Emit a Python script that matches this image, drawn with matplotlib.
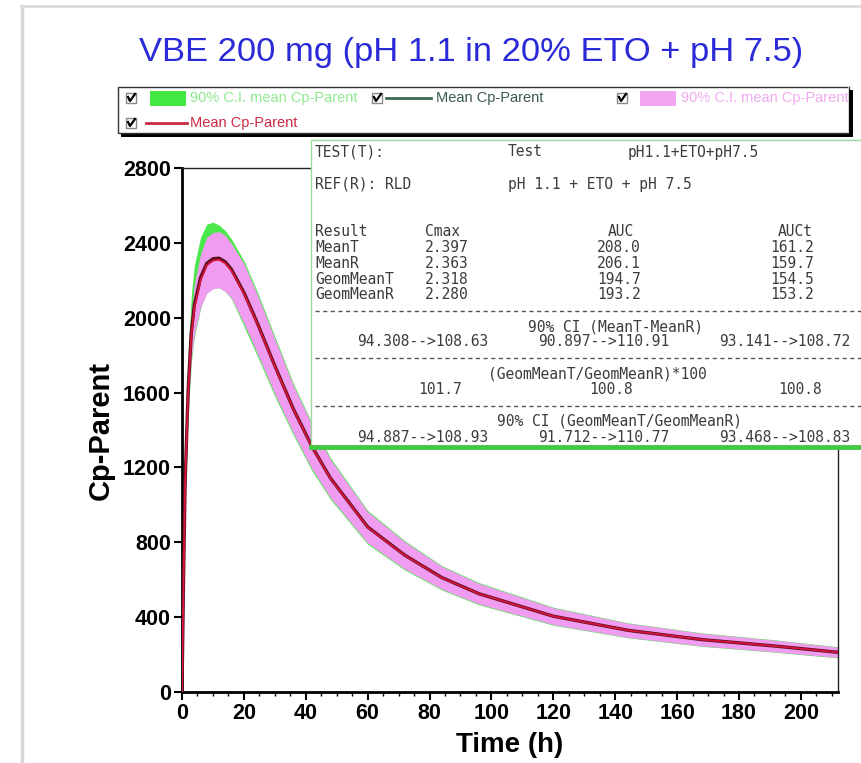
import matplotlib
matplotlib.use("Agg")
import matplotlib.pyplot as plt
from matplotlib.patches import Rectangle
from matplotlib.lines import Line2D

# ---------------- data ----------------
time_h = [0, 0.5, 1, 2, 3, 4, 6, 8, 10, 12, 14, 16, 20, 24, 30, 36, 42, 48,
          60, 72, 84, 96, 120, 144, 168, 192, 212]
mean_ref = [0, 600, 1100, 1600, 1900, 2050, 2200, 2280, 2305, 2310, 2290, 2250,
            2130, 1980, 1740, 1510, 1310, 1140, 880, 730, 610, 525, 405, 330,
            280, 245, 212]
mean_test = [0, 610, 1115, 1620, 1920, 2070, 2215, 2290, 2315, 2318, 2298, 2258,
             2135, 1985, 1743, 1512, 1312, 1142, 882, 731, 611, 525, 405, 330,
             280, 245, 212]
ci_test_upper = [0, 690, 1240, 1800, 2120, 2280, 2430, 2500, 2510, 2495, 2465,
                 2420, 2305, 2152, 1900, 1648, 1437, 1251, 970, 808, 675, 584,
                 453, 370, 316, 278, 242]
ci_test_lower = [0, 550, 1020, 1480, 1760, 1900, 2050, 2140, 2160, 2160, 2140,
                 2100, 1955, 1808, 1580, 1372, 1183, 1029, 790, 652, 545, 466,
                 357, 290, 244, 212, 182]
ci_ref_upper = [0, 640, 1170, 1700, 2020, 2180, 2340, 2430, 2455, 2460, 2440,
                2395, 2290, 2138, 1888, 1638, 1428, 1243, 964, 803, 671, 580,
                450, 368, 314, 276, 240]
ci_ref_lower = [0, 560, 1030, 1500, 1780, 1915, 2055, 2130, 2155, 2160, 2140,
                2105, 1970, 1822, 1592, 1382, 1192, 1037, 796, 657, 549, 470,
                360, 292, 246, 214, 184]

x_ticks = [0, 20, 40, 60, 80, 100, 120, 140, 160, 180, 200]
y_ticks = [0, 400, 800, 1200, 1600, 2000, 2400, 2800]

title = "VBE 200 mg (pH 1.1 in 20% ETO + pH 7.5)"
legend_labels = ["90% C.I. mean Cp-Parent", "Mean Cp-Parent",
                 "90% C.I. mean Cp-Parent", "Mean Cp-Parent"]

test_name = ["TEST(T):", "Test", "pH1.1+ETO+pH7.5"]
ref_name = ["REF(R): RLD", "pH 1.1 + ETO + pH 7.5"]
metrics = ["Cmax", "AUC", "AUCt"]
row_names = ["MeanT", "MeanR", "GeomMeanT", "GeomMeanR"]
cmax_vals = ["2.397", "2.363", "2.318", "2.280"]
auc_vals = ["208.0", "206.1", "194.7", "193.2"]
auct_vals = ["161.2", "159.7", "154.5", "153.2"]
ci_mean = ["94.308-->108.63", "90.897-->110.91", "93.141-->108.72"]
ratio_vals = ["101.7", "100.8", "100.8"]
ci_geom = ["94.887-->108.93", "91.712-->110.77", "93.468-->108.83"]

# ---------------- figure ----------------
W, H = 862, 763
fig = plt.figure(figsize=(W / 100, H / 100), dpi=100)
fig.patch.set_facecolor("white")


def fx(x):
    return x / W


def fy(y):
    return 1 - y / H


# outer gray frame of screenshot
fig.add_artist(Line2D([fx(22), fx(22)], [fy(6), fy(770)], color="#d6d6d6", lw=2.5))
fig.add_artist(Line2D([fx(21), fx(870)], [fy(6), fy(6)], color="#dcdcdc", lw=2))

ax = fig.add_axes([fx(182), fy(692), fx(838) - fx(182), fy(168) - fy(692)])
ax.fill_between(time_h, ci_test_lower, ci_test_upper, color="#4be84b", lw=0, zorder=1)
ax.fill_between(time_h, ci_ref_lower, ci_ref_upper, color="#f09cf0", lw=0, zorder=2)
ax.plot(time_h, mean_test, color="#5a1020", lw=2.4, zorder=3)
ax.plot(time_h, mean_ref, color="#d8143c", lw=1.3, zorder=4)

ax.set_xlim(0, 212)
ax.set_ylim(0, 2800)
ax.set_xticks(x_ticks)
ax.set_yticks(y_ticks)
ax.set_xticks(range(0, 212, 5), minor=True)
for lab in ax.get_xticklabels() + ax.get_yticklabels():
    lab.set_fontweight("bold")
    lab.set_fontfamily("Liberation Sans")
ax.tick_params(axis="both", which="major", labelsize=15.5, length=6, width=1.5,
               direction="out", pad=2)
ax.tick_params(axis="x", which="minor", length=3, width=1, direction="out")
for s in ["left", "bottom"]:
    ax.spines[s].set_linewidth(2)
for s in ["top", "right"]:
    ax.spines[s].set_linewidth(1)
    ax.spines[s].set_color("#222222")
ax.set_xlabel("Time (h)", fontsize=20, fontweight="bold", family="Liberation Sans",
              labelpad=6)
ax.set_ylabel("Cp-Parent", fontsize=21, fontweight="bold", family="Liberation Sans",
              labelpad=6)

# title
fig.text(fx(471), fy(52), title, ha="center", va="center", fontsize=24.8,
         color="#2a2ad8", family="Liberation Sans")

# ---------------- legend box ----------------
fig.add_artist(Rectangle((fx(121), fy(137)), fx(853) - fx(121), fy(90) - fy(137),
                         facecolor="black", edgecolor="none", zorder=20))
fig.add_artist(Rectangle((fx(118), fy(133)), fx(849) - fx(118), fy(87) - fy(133),
                         facecolor="white", edgecolor="#333333", lw=1, zorder=21))


def checkbox(x, y):
    fig.add_artist(Rectangle((fx(x - 5), fy(y + 5)), fx(10), 10 / H,
                             facecolor="white", edgecolor="#888888", lw=1, zorder=22))
    fig.add_artist(Line2D([fx(x - 3), fx(x - 1), fx(x + 4)],
                          [fy(y - 1), fy(y + 3), fy(y - 4)],
                          color="black", lw=1.6, zorder=23))


leg_font = dict(fontsize=10.5, va="center", zorder=23, family="Liberation Sans")
r1, r2 = 98, 123
checkbox(131, r1)
fig.add_artist(Rectangle((fx(150), fy(106)), fx(36), 15 / H, facecolor="#44e844",
                         edgecolor="none", zorder=22))
fig.text(fx(190), fy(r1), legend_labels[0], color="#8ee88e", **leg_font)
checkbox(377, r1)
fig.add_artist(Line2D([fx(386), fx(431)], [fy(r1), fy(r1)], color="#3f6a52", lw=2,
                      zorder=22))
fig.text(fx(436), fy(r1), legend_labels[1], color="#3a5a48", **leg_font)
checkbox(622, r1)
fig.add_artist(Rectangle((fx(640), fy(106)), fx(36), 15 / H, facecolor="#f2a6f2",
                         edgecolor="none", zorder=22))
fig.text(fx(681), fy(r1), legend_labels[2], color="#f0aaf0", **leg_font)
checkbox(131, r2)
fig.add_artist(Line2D([fx(146), fx(187)], [fy(r2), fy(r2)], color="#cc2a44", lw=2,
                      zorder=22))
fig.text(fx(190), fy(r2), legend_labels[3], color="#cc2a44", **leg_font)
# the legend text that runs past the box is hidden by the shadow / a white strip
fig.add_artist(Rectangle((fx(848), fy(133)), fx(20), fy(87) - fy(133),
                         facecolor="white", edgecolor="none", zorder=24))
fig.add_artist(Line2D([fx(849), fx(849)], [fy(87), fy(133)], color="#333333", lw=1,
                      zorder=25))
fig.add_artist(Rectangle((fx(849), fy(137)), fx(4), fy(90) - fy(137),
                         facecolor="black", edgecolor="none", zorder=25))

# ---------------- result text box ----------------
fig.add_artist(Rectangle((fx(311), fy(448)), fx(880) - fx(311), fy(140) - fy(448),
                         facecolor="white", edgecolor="#9ada9a", lw=1, zorder=10))
fig.add_artist(Line2D([fx(311), fx(870)], [fy(447), fy(447)], color="#44c844",
                      lw=3.5, zorder=11))

mono = dict(family="DejaVu Sans Mono", fontsize=10.5, color="#3c3c3c", va="center",
            zorder=12)


def t(x, y, s):
    fig.text(fx(x), fy(y), s, **mono)


t(315, 152, test_name[0]); t(508, 152, test_name[1]); t(628, 152, test_name[2])
t(315, 184, ref_name[0]); t(508, 184, ref_name[1])
t(315, 231, "Result"); t(425, 231, metrics[0]); t(608, 231, metrics[1])
t(778, 231, metrics[2])
for i, name in enumerate(row_names):
    y = 247 + 16 * i
    t(315, y, name)
    t(425, y, cmax_vals[i])
    t(597, y, auc_vals[i])
    t(770, y, auct_vals[i])


def dashes(y):
    fig.add_artist(Line2D([fx(315), fx(870)], [fy(y), fy(y)], color="#555555",
                          lw=1, dashes=(3, 2.5), zorder=12))


dashes(311)
t(528, 327, "90% CI (MeanT-MeanR)")
for x, s in zip([357, 538, 719], ci_mean):
    t(x, 342, s)
dashes(358)
t(488, 374, "(GeomMeanT/GeomMeanR)*100")
for x, s in zip([418, 589, 778], ratio_vals):
    t(x, 390, s)
dashes(406)
t(497, 421, "90% CI (GeomMeanT/GeomMeanR)")
for x, s in zip([357, 538, 719], ci_geom):
    t(x, 437, s)

fig.savefig("out.png", dpi=100)
